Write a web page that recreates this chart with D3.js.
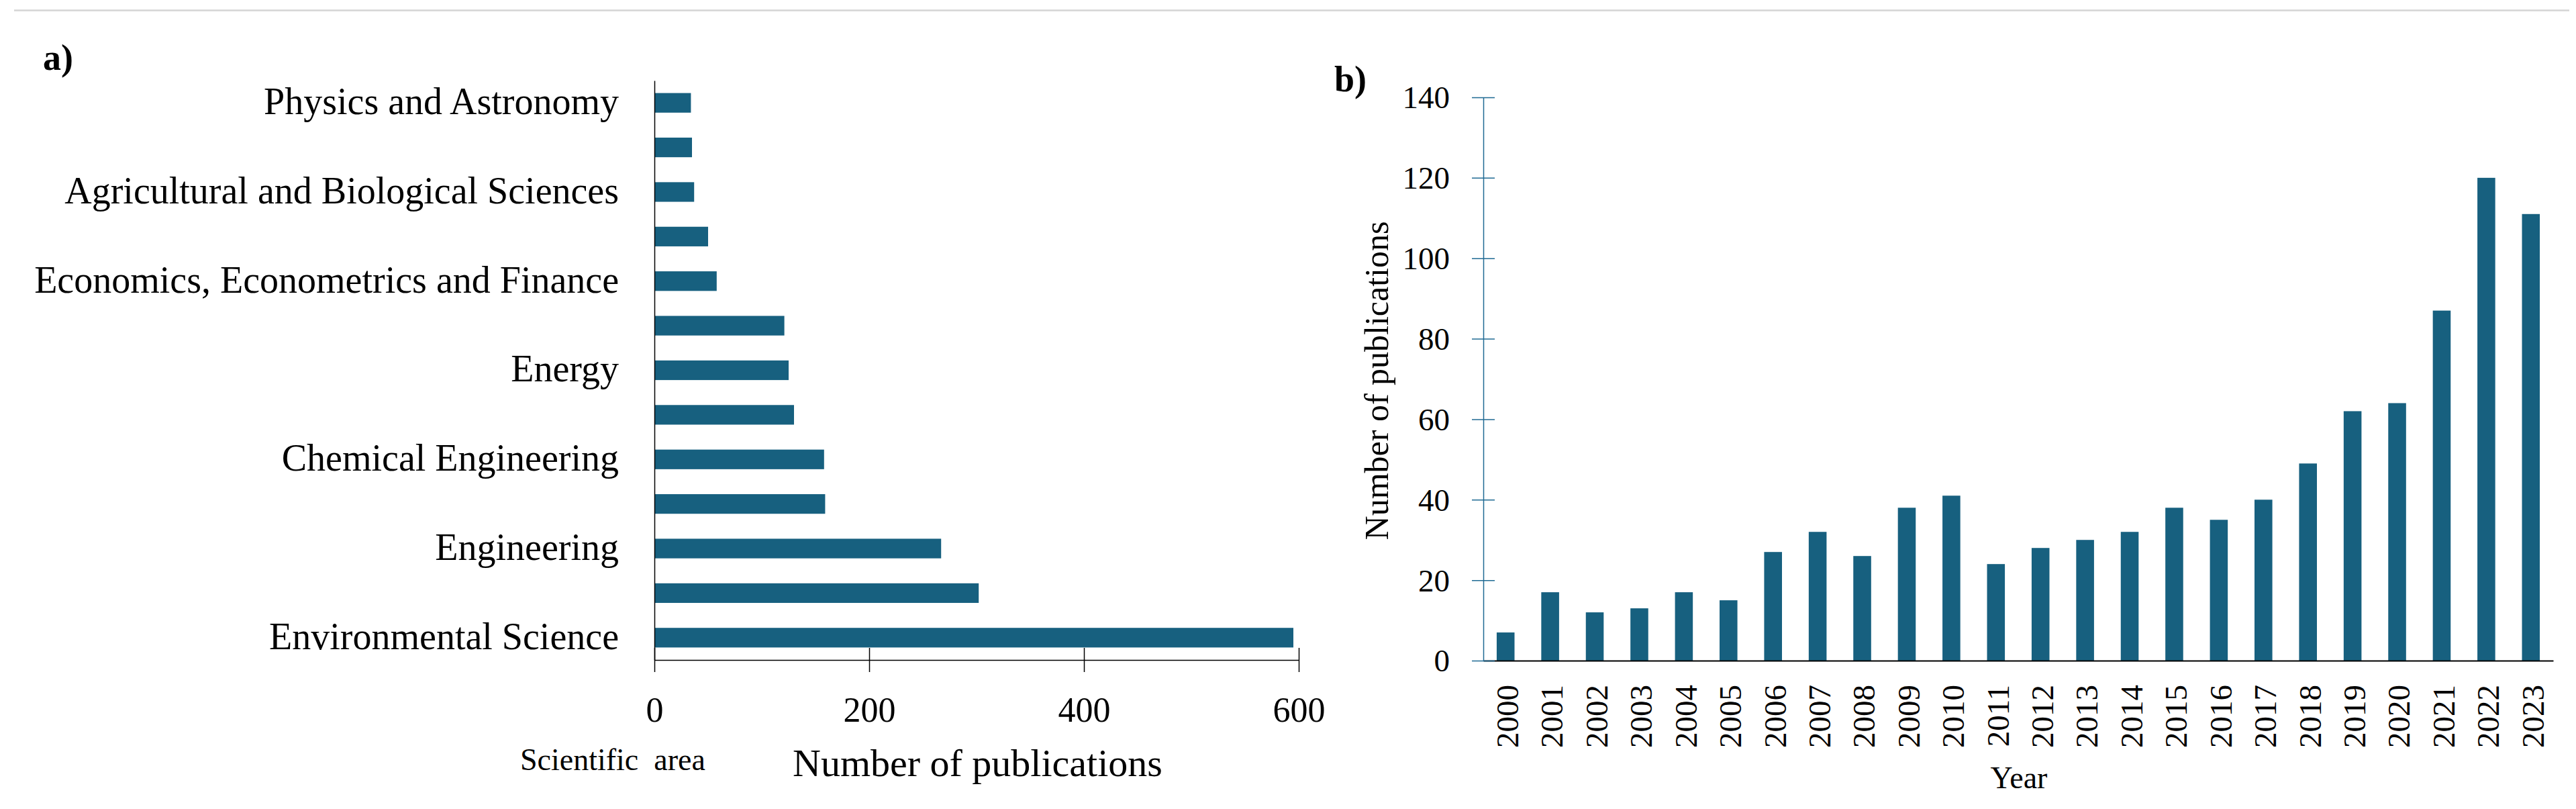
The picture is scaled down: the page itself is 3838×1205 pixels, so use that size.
<!DOCTYPE html>
<html>
<head>
<meta charset="utf-8">
<script src="https://cdn.jsdelivr.net/npm/d3@7/dist/d3.min.js"></script>
<style>
  body { margin: 0; background: #ffffff; }
  svg { display: block; }
  text { font-family: "Liberation Serif", "Times New Roman", serif; fill: #000; }
</style>
</head>
<body>
<svg id="chart" width="3838" height="1205"></svg>
<script>
// ---------- Data: panel a (scientific areas, top to bottom) ----------
const areaCategories = [
  "Physics and Astronomy",
  "Computer Science",
  "Agricultural and Biological Sciences",
  "Mathematics",
  "Economics, Econometrics and Finance",
  "Business, Management and Accounting",
  "Energy",
  "Materials Science",
  "Chemical Engineering",
  "Earth and Planetary Sciences",
  "Engineering",
  "Social Sciences",
  "Environmental Science"
];
const areaValues = [34, 35, 37, 50, 58, 121, 125, 130, 158, 159, 267, 302, 595];
const areaTicks = [0, 200, 400, 600];

// ---------- Data: panel b (publications per year) ----------
const years = ["2000","2001","2002","2003","2004","2005","2006","2007","2008","2009","2010","2011",
               "2012","2013","2014","2015","2016","2017","2018","2019","2020","2021","2022","2023"];
const yearValues = [7, 17, 12, 13, 17, 15, 27, 32, 26, 38, 41, 24,
                    28, 30, 32, 38, 35, 40, 49, 62, 64, 87, 120, 111];
const countTicks = [0, 20, 40, 60, 80, 100, 120, 140];

const barColor = "#17607f";
const svg = d3.select("#chart");

// top thin grey rule
svg.append("line")
  .attr("x1", 21).attr("x2", 3828).attr("y1", 15.5).attr("y2", 15.5)
  .attr("stroke", "#d4d4d4").attr("stroke-width", 2.5);

// ================= Panel a =================
const yA = d3.scaleBand().domain(areaCategories).range([120, 983])
  .paddingInner(0.56).paddingOuter(0.28);
const xA = d3.scaleLinear().domain([0, 600]).range([975, 1935]);

svg.append("g").selectAll("rect")
  .data(areaCategories.map((c, i) => ({ c, v: areaValues[i] })))
  .join("rect")
  .attr("x", xA(0))
  .attr("y", d => yA(d.c))
  .attr("width", d => xA(d.v) - xA(0))
  .attr("height", yA.bandwidth())
  .attr("fill", barColor);

const axA_left = svg.append("g").attr("transform", `translate(${xA(0)},0)`)
  .call(d3.axisLeft(yA).tickSize(0).tickPadding(53)
    .tickFormat((d, i) => (i % 2 === 0 ? d : "")));
axA_left.select(".domain").attr("stroke", "#000").attr("stroke-width", 1.5);
axA_left.selectAll("text")
  .attr("font-size", 56).attr("dy", "0.30em")
  .style("font-family", '"Liberation Serif", serif');

const axA_bottom = svg.append("g").attr("transform", `translate(0,983)`)
  .call(d3.axisBottom(xA).tickValues(areaTicks).tickSize(18).tickSizeOuter(0));
axA_bottom.select(".domain").attr("stroke", "#000").attr("stroke-width", 1.5);
axA_bottom.selectAll(".tick line").attr("y1", -18).attr("stroke", "#000").attr("stroke-width", 1.5);
axA_bottom.selectAll("text")
  .attr("y", 92).attr("dy", 0).attr("font-size", 52)
  .style("font-family", '"Liberation Serif", serif');

svg.append("text").attr("x", 775).attr("y", 1147)
  .attr("font-size", 46).attr("xml:space", "preserve")
  .text("Scientific  area");
svg.append("text").attr("x", 1181).attr("y", 1156)
  .attr("font-size", 58)
  .text("Number of publications");

svg.append("text").attr("x", 64).attr("y", 104)
  .attr("font-size", 54).attr("font-weight", "bold").text("a)");

// ================= Panel b =================
const xB = d3.scaleBand().domain(years).range([2210, 3804])
  .paddingInner(0.6).paddingOuter(0.3);
const yB = d3.scaleLinear().domain([0, 140]).range([984, 145]);

svg.append("g").selectAll("rect")
  .data(years.map((y, i) => ({ y, v: yearValues[i] })))
  .join("rect")
  .attr("x", d => xB(d.y))
  .attr("y", d => yB(d.v))
  .attr("width", xB.bandwidth())
  .attr("height", d => yB(0) - yB(d.v))
  .attr("fill", barColor);

const axB_bottom = svg.append("g").attr("transform", `translate(0,984)`)
  .call(d3.axisBottom(xB).tickSize(0).tickSizeOuter(0));
axB_bottom.select(".domain").attr("stroke", "#000").attr("stroke-width", 1.8);
axB_bottom.selectAll("text")
  .attr("transform", "rotate(-90)")
  .attr("text-anchor", "end")
  .attr("x", -36).attr("y", 0).attr("dy", "0.40em")
  .attr("font-size", 47)
  .style("font-family", '"Liberation Serif", serif');

const axisBlue = "#1f6a93";
const axB_left = svg.append("g").attr("transform", `translate(2210,0)`)
  .call(d3.axisLeft(yB).tickValues(countTicks).tickSize(17).tickSizeOuter(0).tickPadding(33));
axB_left.select(".domain").attr("stroke", axisBlue).attr("stroke-width", 1.5);
axB_left.selectAll(".tick line").attr("x1", 17).attr("stroke", axisBlue).attr("stroke-width", 1.5);
axB_left.selectAll("text")
  .attr("x", -50).attr("dy", "0.34em").attr("font-size", 47)
  .style("font-family", '"Liberation Serif", serif');

svg.append("text")
  .attr("transform", "translate(2068,567) rotate(-90)")
  .attr("text-anchor", "middle").attr("font-size", 50)
  .text("Number of publications");

svg.append("text").attr("x", 3008).attr("y", 1174)
  .attr("text-anchor", "middle").attr("font-size", 46).text("Year");

svg.append("text").attr("x", 1988).attr("y", 136)
  .attr("font-size", 54).attr("font-weight", "bold").text("b)");
</script>
</body>
</html>
